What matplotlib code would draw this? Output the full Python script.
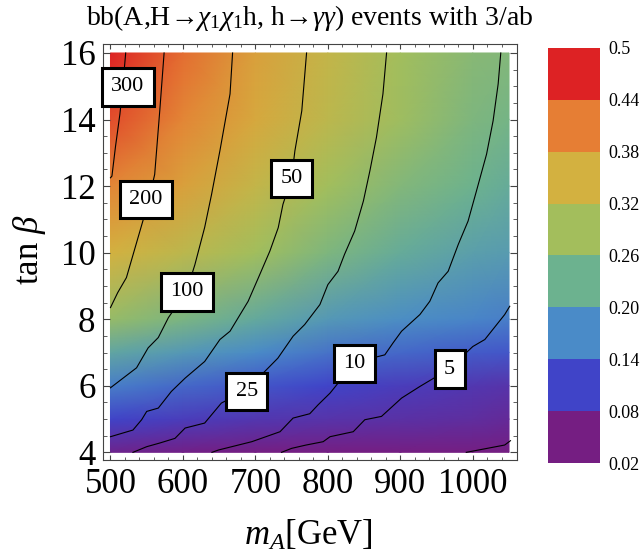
import numpy as np
import matplotlib
matplotlib.use('Agg')
import matplotlib.pyplot as plt
from matplotlib.colors import LinearSegmentedColormap, ListedColormap, BoundaryNorm
from matplotlib.cm import ScalarMappable

plt.rcParams['font.family'] = ['Liberation Serif', 'DejaVu Serif']
plt.rcParams['mathtext.fontset'] = 'custom'
plt.rcParams['mathtext.rm'] = 'Liberation Serif'
plt.rcParams['mathtext.it'] = 'Liberation Serif:italic'

# colour value at grid nodes (rows: tan beta, cols: m_A)
mA = [500, 600, 700, 800, 900, 1000, 1050]
tb = [4, 5, 6, 7, 8, 10, 12, 14, 16]
val = [[0.060, 0.055, 0.050, 0.050, 0.050, 0.050, 0.050],
       [0.110, 0.100, 0.090, 0.085, 0.080, 0.075, 0.070],
       [0.160, 0.140, 0.125, 0.110, 0.100, 0.090, 0.085],
       [0.210, 0.190, 0.170, 0.150, 0.140, 0.130, 0.125],
       [0.275, 0.245, 0.215, 0.190, 0.175, 0.165, 0.160],
       [0.350, 0.320, 0.290, 0.250, 0.220, 0.200, 0.195],
       [0.400, 0.370, 0.330, 0.290, 0.255, 0.230, 0.220],
       [0.440, 0.400, 0.360, 0.320, 0.285, 0.250, 0.240],
       [0.480, 0.420, 0.370, 0.330, 0.290, 0.260, 0.255]]

# event-number contours
c300_m = [521, 517, 513, 507, 502, 500]
c300_t = [16, 15.0, 14.16, 13.2, 12.3, 12.25]
c200_m = [574, 568, 561, 552, 538, 522, 510, 500]
c200_t = [16, 14.26, 12.35, 11.5, 10.45, 9.25, 8.8, 8.35]
c100_m = [668.5, 665, 651, 639.5, 630, 616.5, 605, 580, 566, 552, 536, 500]
c100_t = [16, 14.77, 13.06, 11.75, 10.76, 9.64, 8.84, 8.05, 7.45, 7.14, 6.54, 5.94]
c50_m = [770.6, 764, 754.5, 750, 738, 731.5, 720, 704, 690, 665, 651, 630,
         603, 584, 566, 550, 543, 531, 500]
c50_t = [16, 14.26, 13.06, 12.26, 11.45, 10.75, 10.05, 9.24, 8.54, 7.64, 7.39, 6.73,
         6.23, 5.83, 5.33, 5.23, 4.98, 4.67, 4.47]
c25_m = [881, 876, 867, 858, 849, 837, 823, 814, 800, 789, 768, 752, 731, 688,
         653, 630, 603, 589, 568, 550, 531]
c25_t = [16, 14.77, 13.46, 12.46, 11.55, 10.65, 9.95, 9.44, 9.04, 8.44, 7.84, 7.49, 6.83, 5.88,
         5.48, 4.88, 4.73, 4.42, 4.28, 4.17, 4.0]
c10_m = [1038.6, 1035, 1028, 1019, 1005, 993.5, 980, 966, 952, 940.7, 927, 901.7,
         890, 878.6, 837, 803, 786.6, 775, 752, 734, 695, 649, 640]
c10_t = [16, 15.07, 13.96, 12.96, 11.85, 10.95, 10.25, 9.44, 9.09, 8.54, 8.14, 7.64,
         7.29, 6.93, 6.7, 5.78, 5.43, 5.16, 5.03, 4.62, 4.32, 4.07, 4.0]
c5_m = [1051, 1044, 1016.6, 1000, 967, 927, 901.7, 874, 851, 835, 803, 793.5, 770, 750, 736]
c5_t = [8.39, 8.14, 7.39, 7.18, 6.5, 5.98, 5.63, 5.08, 4.98, 4.62, 4.47, 4.32, 4.22, 4.12, 4.0]
c2_m = [1052, 1044, 991]
c2_t = [4.35, 4.22, 4.0]

lines = [(c300_m, c300_t), (c200_m, c200_t), (c100_m, c100_t), (c50_m, c50_t),
         (c25_m, c25_t), (c10_m, c10_t), (c5_m, c5_t), (c2_m, c2_t)]

# contour labels
lab_text = ['300', '200', '100', '50', '25', '10', '5']
lab_m = [524, 549, 605, 750, 688, 837, 968]
lab_t = [14.98, 11.6, 8.82, 12.23, 5.83, 6.67, 6.5]

# legend bands
bounds = [0.02, 0.08, 0.14, 0.20, 0.26, 0.32, 0.38, 0.44, 0.5]
bound_labels = ['0.02', '0.08', '0.14', '0.20', '0.26', '0.32', '0.38', '0.44', '0.5']
band_colors = ['#751e82', '#4044c8', '#4a8bc8', '#6cb28f', '#a3be5c', '#d3b140', '#e67e34', '#dd2224']

centers = [(b + 0.03 - 0.02) / 0.48 for b in bounds[:-1]]
field_cmap = LinearSegmentedColormap.from_list(
    'rainbow_m', [(0, band_colors[0])] + list(zip(centers, band_colors)) + [(1, band_colors[-1])])

fig = plt.figure(figsize=(6.44, 5.52), dpi=100)
ax = fig.add_axes([102.5 / 644, 1 - 460 / 552, 414.5 / 644, 416 / 552])

M, T = np.meshgrid(mA, tb)
ax.pcolormesh(M, T, np.array(val), shading='gouraud', cmap=field_cmap, vmin=0.02, vmax=0.5)

for m, t in lines:
    ax.plot(m, t, color='black', lw=0.8, zorder=3)

for s, m, t in zip(lab_text, lab_m, lab_t):
    ax.text(m, t, s, ha='center', va='center', fontsize=16, zorder=5, clip_on=False,
            bbox=dict(boxstyle='square,pad=0.42', fc='white', ec='black', lw=2.2))

ax.set_xlim(489, 1061)
ax.set_ylim(3.77, 16.27)
ax.set_xticks([500, 600, 700, 800, 900, 1000])
ax.set_xticks(np.arange(520, 1060, 20), minor=True)
ax.set_yticks([4, 6, 8, 10, 12, 14, 16])
ax.set_yticks(np.arange(4, 16.01, 0.5), minor=True)
for sp in ax.spines.values():
    sp.set_color('#444444')
    sp.set_linewidth(0.8)
ax.tick_params(which='both', direction='in', top=True, right=True, color='#444444',
               labelsize=25)
ax.tick_params(axis='x', which='both', pad=6)
ax.tick_params(axis='y', which='both', pad=5)
ax.tick_params(axis='x', which='major', length=3.8)
ax.tick_params(axis='x', which='minor', length=2.2)
ax.tick_params(axis='y', which='major', length=5)
ax.tick_params(axis='y', which='minor', length=2.9)

fig.text(310 / 644, 1 - 25 / 552,
         r'bb(A,H→$\chi_1\chi_1$h, h→$\gamma\gamma$) events with 3/ab',
         ha='center', va='baseline', fontsize=20)
fig.text(30 / 644, 1 - 250 / 552, r'tan $\beta$', rotation=90, ha='center', va='center',
         fontsize=25)
fig.text(308 / 644, 1 - 545 / 552, r'$m_A$[GeV]', ha='center', va='baseline', fontsize=25)

cax = fig.add_axes([548 / 644, 1 - 463 / 552, 52 / 644, 415 / 552])
cb = fig.colorbar(ScalarMappable(norm=BoundaryNorm(bounds, 8), cmap=ListedColormap(band_colors)),
                  cax=cax, ticks=bounds)
cb.set_ticklabels(bound_labels)
cb.outline.set_visible(False)
cax.tick_params(length=0, labelsize=13, pad=6)

fig.savefig('out.png', dpi=100)
